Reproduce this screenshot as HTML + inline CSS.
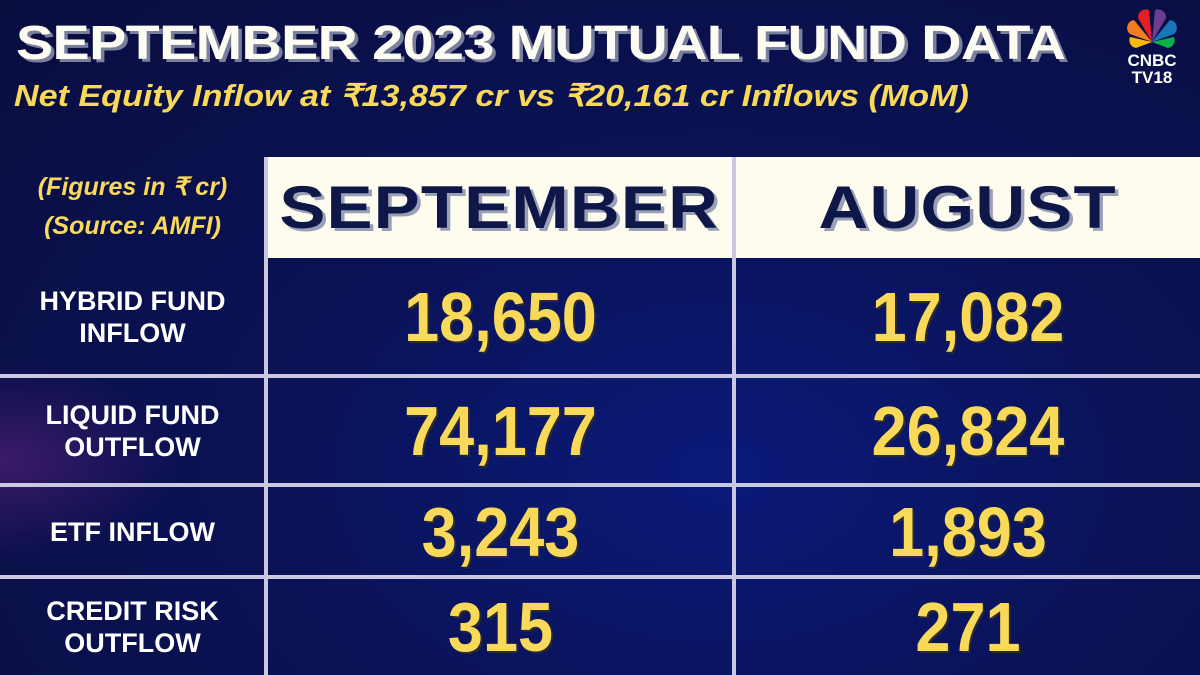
<!DOCTYPE html>
<html><head><meta charset="utf-8">
<style>
html,body{margin:0;padding:0}
body{width:1200px;height:675px;overflow:hidden;position:relative;background:radial-gradient(ellipse at 60% 70%,#0b1a7a 0%,#0a1255 45%,#090d3e 100%);font-family:"Liberation Sans","Noto Sans CJK SC",sans-serif}
.glow{position:absolute;left:0;top:360px;width:180px;height:200px;background:radial-gradient(ellipse at 0% 50%,rgba(120,40,140,.45),rgba(0,0,0,0) 70%)}
#title{position:absolute;left:16px;top:16px;font-size:48px;font-weight:bold;color:#fdfcf3;letter-spacing:-0.5px;text-shadow:3px 3px 0 #7a7f9e;white-space:nowrap;transform:scaleX(1.16);transform-origin:left}
#subtitle{position:absolute;left:14px;top:78px;font-size:31px;font-weight:bold;font-style:italic;color:#f9d95a;white-space:nowrap;transform:scaleX(1.1);transform-origin:left}
#logo{position:absolute;left:1112px;top:8px;width:80px;height:80px}
.note{position:absolute;left:0;width:265px;text-align:center;color:#f9d95a;font-style:italic;font-weight:bold;font-size:25px}
.hdr{position:absolute;top:157px;height:101px;background:#fdfcef;display:flex;align-items:center;justify-content:center;font-size:60px;font-weight:bold;color:#0e1748;text-shadow:3px 3px 0 #9aa0b8;letter-spacing:1px}
.hdr span{display:inline-block;transform:scaleX(1.15)}
.hl{position:absolute;background:#c9c8e0}
.lbl{position:absolute;left:0;width:265px;text-align:center;color:#fff;font-weight:bold;font-size:27px;line-height:32px;display:flex;align-items:center;justify-content:center}
.val{position:absolute;text-align:center;color:#f9d95a;font-weight:bold;font-size:70px;display:flex;align-items:center;justify-content:center;text-shadow:2px 2px 0 #2a2a30;transform:scaleX(.9)}
</style></head>
<body>
<div class="glow"></div>
<div id="title">SEPTEMBER 2023 MUTUAL FUND DATA</div>
<div id="subtitle">Net Equity Inflow at ₹13,857 cr vs ₹20,161 cr Inflows (MoM)</div>
<svg id="logo" viewBox="0 0 80 80">
<g transform="translate(40,34)">
<path d="M0,0 L-22,-8 A8,8 0 0 1 -18,-22 Z" fill="#f47b20"/>
<path d="M0,0 L-14,-24 A8,8 0 0 1 -3,-32 Z" fill="#e21f26"/>
<path d="M0,0 L3,-32 A8,8 0 0 1 14,-24 Z" fill="#6c3d91"/>
<path d="M0,0 L18,-22 A8,8 0 0 1 22,-8 Z" fill="#1b75bb"/>
<path d="M0,0 L-22,-5 A8,8 0 0 0 -16,6 Z" fill="#fcb711"/>
<path d="M0,0 L22,-5 A8,8 0 0 1 16,6 Z" fill="#0db14b"/>
</g>
<text x="40" y="58" text-anchor="middle" font-family="Liberation Sans" font-weight="bold" font-size="17" fill="#fff">CNBC</text>
<text x="40" y="75" text-anchor="middle" font-family="Liberation Sans" font-weight="bold" font-size="17" fill="#fff">TV18</text>
</svg>
<div class="note" style="top:172px">(Figures in ₹ cr)</div>
<div class="note" style="top:212px">(Source: AMFI)</div>
<div class="hdr" style="left:265px;width:468px"><span>SEPTEMBER</span></div>
<div class="hdr" style="left:735px;width:465px"><span>AUGUST</span></div>
<div id="table"></div>
<script>
const categories=["HYBRID FUND<br>INFLOW","LIQUID FUND<br>OUTFLOW","ETF INFLOW","CREDIT RISK<br>OUTFLOW"];
const septemberValues=["18,650","74,177","3,243","315"];
const augustValues=["17,082","26,824","1,893","271"];
const rowTops=[258,375,484,576,675];
const t=document.getElementById('table');
for(let i=0;i<categories.length;i++){
  const y0=rowTops[i]+(i?3:0), y1=rowTops[i+1], h=y1-y0;
  const l=document.createElement('div');l.className='lbl';
  
  
  l.style.top=y0+'px';l.style.height=h+'px';l.innerHTML=categories[i];t.appendChild(l);
  const a=document.createElement('div');a.className='val';
  
  
  a.style.cssText+='left:268px;width:465px;top:'+y0+'px;height:'+h+'px';a.textContent=septemberValues[i];t.appendChild(a);
  const b=document.createElement('div');b.className='val';
  
  
  b.style.cssText+='left:736px;width:464px;top:'+y0+'px;height:'+h+'px';b.textContent=augustValues[i];t.appendChild(b);
  if(i>0){const ln=document.createElement('div');ln.className='hl';
    
    
    ln.style.cssText+='left:0;width:1200px;top:'+(rowTops[i]-1)+'px;height:4px';t.appendChild(ln);}
}
[264,732].forEach(x=>{const v=document.createElement('div');v.className='hl';
  
  
  v.style.cssText+='left:'+x+'px;width:4px;top:157px;height:518px';t.appendChild(v);});
</script>
</body></html>
